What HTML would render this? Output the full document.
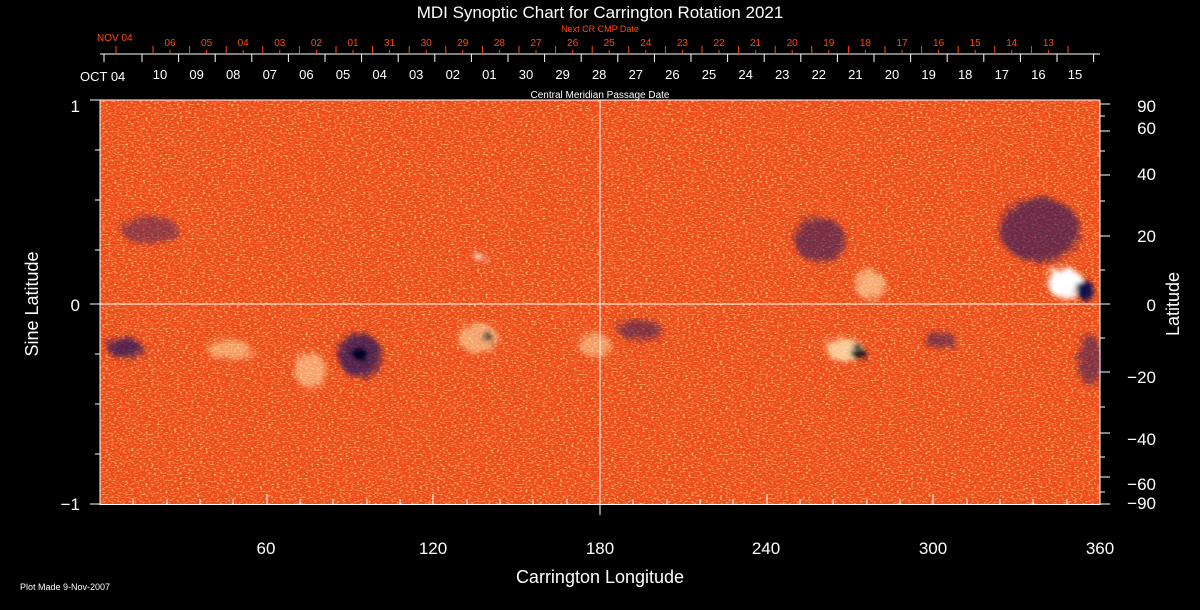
<!DOCTYPE html>
<html><head><style>
html,body{margin:0;padding:0;background:#000;}
svg{display:block}
text{font-family:"Liberation Sans",sans-serif;}
</style></head><body>
<svg width="1200" height="610" viewBox="0 0 1200 610" xmlns="http://www.w3.org/2000/svg">
<defs>
<filter id="noise" x="0" y="0" width="100%" height="100%">
<feTurbulence type="fractalNoise" baseFrequency="0.35 0.7" numOctaves="2" seed="3"/>
<feColorMatrix type="matrix" values="0 0 0 0 1  0 0 0 0 0.85  0 0 0 0 0.3  0 0 0 3.2 -1.6"/>
</filter>
<filter id="rough" x="-50%" y="-50%" width="200%" height="200%">
<feTurbulence type="fractalNoise" baseFrequency="0.25" numOctaves="2" seed="7" result="n"/>
<feDisplacementMap in="SourceGraphic" in2="n" scale="18"/>
<feGaussianBlur stdDeviation="2"/>
</filter>
</defs>
<rect width="1200" height="610" fill="#000"/>
<text x="600" y="18" fill="#fff" font-size="17" text-anchor="middle">MDI Synoptic Chart for Carrington Rotation 2021</text>
<text x="600" y="32" fill="#ff4a10" font-size="9" text-anchor="middle">Next CR CMP Date</text>
<text x="600" y="98" fill="#fff" font-size="10" text-anchor="middle">Central Meridian Passage Date</text>
<rect x="100" y="100" width="1000" height="404" fill="#ee4a1a"/>
<rect x="100" y="100" width="1000" height="404" filter="url(#noise)" opacity="0.75"/>
<g filter="url(#rough)">
<ellipse cx="150" cy="230" rx="28" ry="14" fill="#402060" opacity="0.5"/>
<ellipse cx="125" cy="348" rx="18" ry="10" fill="#201060" opacity="0.7"/>
<ellipse cx="230" cy="350" rx="22" ry="10" fill="#ffe0a0" opacity="0.55"/>
<ellipse cx="360" cy="355" rx="22" ry="22" fill="#201060" opacity="0.7"/>
<ellipse cx="310" cy="370" rx="16" ry="18" fill="#ffe8b0" opacity="0.55"/>
<ellipse cx="478" cy="338" rx="20" ry="15" fill="#ffe8b0" opacity="0.55"/>
<ellipse cx="595" cy="345" rx="16" ry="12" fill="#ffe8b0" opacity="0.5"/>
<ellipse cx="640" cy="330" rx="22" ry="10" fill="#201060" opacity="0.5"/>
<ellipse cx="820" cy="240" rx="26" ry="22" fill="#201060" opacity="0.55"/>
<ellipse cx="870" cy="285" rx="15" ry="15" fill="#ffe8b0" opacity="0.6"/>
<ellipse cx="845" cy="350" rx="18" ry="12" fill="#fff0c0" opacity="0.75"/>
<ellipse cx="1040" cy="230" rx="40" ry="32" fill="#201060" opacity="0.6"/>
<ellipse cx="940" cy="340" rx="16" ry="8" fill="#201060" opacity="0.5"/>
<ellipse cx="1090" cy="360" rx="12" ry="26" fill="#201060" opacity="0.5"/>
<ellipse cx="1065" cy="283" rx="18" ry="15" fill="#fff"/>
<ellipse cx="1085" cy="290" rx="8" ry="10" fill="#101050"/>
<ellipse cx="858" cy="352" rx="7" ry="7" fill="#000020"/>
<ellipse cx="488" cy="337" rx="5" ry="6" fill="#000020"/>
<ellipse cx="360" cy="355" rx="7" ry="7" fill="#000020"/>
<ellipse cx="480" cy="257" rx="5" ry="3" fill="#fff"/>
</g>
<g stroke="#fff" stroke-width="1" fill="none">
<line x1="100" y1="100" x2="1100" y2="100"/>
<line x1="100" y1="100" x2="100" y2="505"/>
<line x1="1100" y1="100" x2="1100" y2="505"/>
<line x1="100" y1="504.5" x2="1100" y2="504.5"/>
<line x1="100" y1="304" x2="1100" y2="304"/>
<line x1="600" y1="100" x2="600" y2="515"/>
</g>
<g stroke="#fff">
<line x1="267" y1="504" x2="267" y2="494"/><line x1="433" y1="504" x2="433" y2="494"/>
<line x1="767" y1="504" x2="767" y2="494"/><line x1="933" y1="504" x2="933" y2="494"/>
<path d="M133 504v-5M167 504v-5M200 504v-5M233 504v-5M300 504v-5M333 504v-5M367 504v-5M400 504v-5M467 504v-5M500 504v-5M533 504v-5M567 504v-5M633 504v-5M667 504v-5M700 504v-5M733 504v-5M800 504v-5M833 504v-5M867 504v-5M900 504v-5M967 504v-5M1000 504v-5M1033 504v-5M1067 504v-5"/>
<path d="M90 100h10M90 304h10M90 504h10M95 150h5M95 200h5M95 250h5M95 354h5M95 404h5M95 454h5"/>
<path d="M1100 104h10M1100 131h10M1100 175h10M1100 236h10M1100 304h10M1100 372h10M1100 433h10M1100 477h10M1100 504h10M1100 116h5M1100 151h5M1100 201h5M1100 270h5M1100 338h5M1100 407h5M1100 457h5M1100 492h5"/>
</g>
<g fill="#fff" font-size="17">
<text x="80" y="112" text-anchor="end">1</text>
<text x="80" y="311" text-anchor="end">0</text>
<text x="80" y="510" text-anchor="end">−1</text>
<g text-anchor="middle">
<text x="266" y="554">60</text><text x="433" y="554">120</text><text x="600" y="554">180</text>
<text x="766" y="554">240</text><text x="933" y="554">300</text><text x="1100" y="554">360</text>
</g>
<g text-anchor="end">
<text x="1156" y="112">90</text><text x="1156" y="134">60</text><text x="1156" y="180">40</text><text x="1156" y="242">20</text>
<text x="1156" y="311">0</text><text x="1156" y="383">−20</text><text x="1156" y="445">−40</text><text x="1156" y="490">−60</text><text x="1156" y="509">−90</text>
</g>
<text x="600" y="583" text-anchor="middle" font-size="18">Carrington Longitude</text>
<text transform="translate(38,304) rotate(-90)" text-anchor="middle" font-size="18">Sine Latitude</text>
<text transform="translate(1179,304) rotate(-90)" text-anchor="middle" font-size="18">Latitude</text>
</g>
<text x="20" y="590" fill="#fff" font-size="9">Plot Made  9-Nov-2007</text>
<line x1="100" y1="54" x2="1100" y2="54" stroke="#fff"/>
<path stroke="#fff" d="M104 54v8M142 54v8M178.6 54v8M215.2 54v8M251.8 54v8M288.4 54v8M325 54v8M361.6 54v8M398.2 54v8M434.8 54v8M471.4 54v8M508 54v8M544.6 54v8M581.2 54v8M617.8 54v8M654.4 54v8M691 54v8M727.6 54v8M764.2 54v8M800.8 54v8M837.4 54v8M874 54v8M910.6 54v8M947.2 54v8M983.8 54v8M1020.4 54v8M1057 54v8M1093.6 54v8"/>
<path stroke="#ff4a10" d="M116 54v-8M153 54v-8M189.6 54v-8M226.2 54v-8M262.8 54v-8M299.4 54v-8M336 54v-8M372.6 54v-8M409.2 54v-8M445.8 54v-8M482.4 54v-8M519 54v-8M555.6 54v-8M592.2 54v-8M628.8 54v-8M665.4 54v-8M702 54v-8M738.6 54v-8M775.2 54v-8M811.8 54v-8M848.4 54v-8M885 54v-8M921.6 54v-8M958.2 54v-8M994.8 54v-8M1031.4 54v-8M1068 54v-8M170 54v-4M206.6 54v-4M243.2 54v-4M279.8 54v-4M316.4 54v-4M353 54v-4M389.6 54v-4M426.2 54v-4M462.8 54v-4M499.4 54v-4M536 54v-4M572.6 54v-4M609.2 54v-4M645.8 54v-4M682.4 54v-4M719 54v-4M755.6 54v-4M792.2 54v-4M828.8 54v-4M865.4 54v-4M902 54v-4M938.6 54v-4M975.2 54v-4M1011.8 54v-4M1048.4 54v-4"/>
<g fill="#fff" font-size="13" text-anchor="middle">
<text x="160" y="79">10</text><text x="196.6" y="79">09</text><text x="233.2" y="79">08</text><text x="269.8" y="79">07</text><text x="306.4" y="79">06</text><text x="343" y="79">05</text><text x="379.6" y="79">04</text><text x="416.2" y="79">03</text><text x="452.8" y="79">02</text><text x="489.4" y="79">01</text><text x="526" y="79">30</text><text x="562.6" y="79">29</text><text x="599.2" y="79">28</text><text x="635.8" y="79">27</text><text x="672.4" y="79">26</text><text x="709" y="79">25</text><text x="745.6" y="79">24</text><text x="782.2" y="79">23</text><text x="818.8" y="79">22</text><text x="855.4" y="79">21</text><text x="892" y="79">20</text><text x="928.6" y="79">19</text><text x="965.2" y="79">18</text><text x="1001.8" y="79">17</text><text x="1038.4" y="79">16</text><text x="1075" y="79">15</text>
</g>
<g fill="#ff4a10" font-size="10" text-anchor="middle">
<text x="170" y="46">06</text><text x="206.6" y="46">05</text><text x="243.2" y="46">04</text><text x="279.8" y="46">03</text><text x="316.4" y="46">02</text><text x="353" y="46">01</text><text x="389.6" y="46">31</text><text x="426.2" y="46">30</text><text x="462.8" y="46">29</text><text x="499.4" y="46">28</text><text x="536" y="46">27</text><text x="572.6" y="46">26</text><text x="609.2" y="46">25</text><text x="645.8" y="46">24</text><text x="682.4" y="46">23</text><text x="719" y="46">22</text><text x="755.6" y="46">21</text><text x="792.2" y="46">20</text><text x="828.8" y="46">19</text><text x="865.4" y="46">18</text><text x="902" y="46">17</text><text x="938.6" y="46">16</text><text x="975.2" y="46">15</text><text x="1011.8" y="46">14</text><text x="1048.4" y="46">13</text>
</g>
<text x="80" y="81" fill="#fff" font-size="13">OCT 04</text>
<text x="97" y="41" fill="#ff4a10" font-size="10">NOV 04</text>
</svg>
</body></html>
